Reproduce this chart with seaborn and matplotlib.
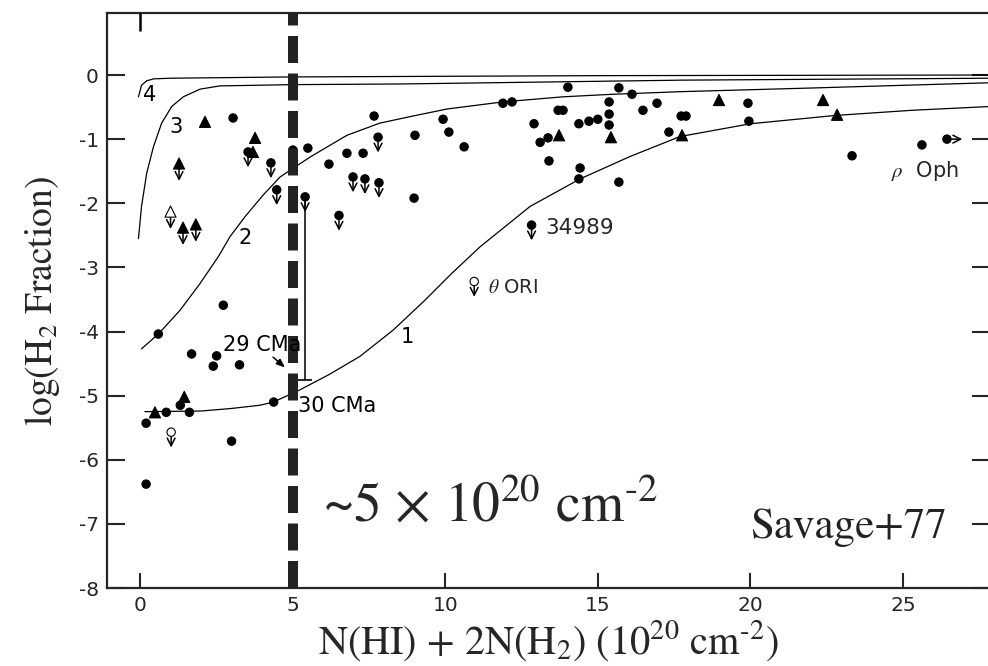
import numpy as np
import pandas as pd
import matplotlib
matplotlib.use("Agg")
import matplotlib.pyplot as plt
import seaborn as sns

sns.set_style("ticks")
plt.rcParams["font.family"] = ["DejaVu Sans"]
plt.rcParams["mathtext.fontset"] = "stix"
plt.rcParams["axes.unicode_minus"] = False

# ---- model curves (log f_H2 vs total column, 10^20 cm^-2) ----
curve1_x = [0.16, 2.0, 3.0, 3.93, 4.37, 5.24, 6.2, 7.2, 8.29, 9.34, 10.2, 11.14,
            12.78, 14.42, 16.06, 17.69, 20.0, 22.8, 25.3, 27.9]
curve1_y = [-5.25, -5.24, -5.2, -5.15, -5.1, -4.91, -4.67, -4.39, -3.98, -3.51, -3.1, -2.68,
            -2.05, -1.62, -1.27, -0.96, -0.76, -0.63, -0.55, -0.49]
curve2_x = [0.05, 0.6, 1.31, 1.97, 2.57, 2.95, 3.44, 4.04, 4.59, 5.57, 6.78, 7.86,
            8.94, 10.06, 11.88, 13.86, 15.5, 17.7, 22.2, 27.9]
curve2_y = [-4.27, -4.04, -3.67, -3.25, -2.83, -2.52, -2.21, -1.87, -1.59, -1.28, -0.94, -0.75,
            -0.64, -0.53, -0.42, -0.34, -0.3, -0.26, -0.2, -0.12]
curve3_x = [-0.05, 0.05, 0.22, 0.44, 0.71, 1.04, 1.42, 1.97, 2.62, 5.0, 8.52, 17.8, 27.9]
curve3_y = [-2.55, -2.05, -1.53, -1.12, -0.75, -0.49, -0.34, -0.22, -0.17, -0.15, -0.14, -0.08, -0.05]
curve4_x = [-0.05, 0.05, 0.22, 0.45, 1.0, 5.0, 15.0, 27.9]
curve4_y = [-0.34, -0.16, -0.09, -0.06, -0.05, -0.03, -0.01, 0.0]
curve_labels = ["1", "2", "3", "4"]
curve_label_x = [8.75, 3.44, 1.18, 0.33]
curve_label_y = [-4.09, -2.54, -0.81, -0.31]

# ---- observed sight lines ----
dot_x = [3.05, 5.01, 5.5, 6.19, 6.78, 7.31, 7.67, 9.01, 9.93, 10.12, 10.62, 8.98,
         11.89, 12.19, 12.91, 13.11, 13.37, 13.4, 13.7, 13.86, 14.02, 14.38, 14.42, 14.38,
         14.71, 15.0, 15.37, 15.37, 15.37, 15.69, 15.69, 16.12, 16.48, 16.94, 17.33,
         17.73, 17.89, 19.92, 19.95, 23.33, 25.62,
         2.73, 0.6, 1.69, 2.51, 2.4, 3.26, 4.38, 1.32, 1.62, 0.86, 0.2, 3.0, 0.2]
dot_y = [-0.67, -1.17, -1.14, -1.39, -1.22, -1.22, -0.64, -0.94, -0.69, -0.89, -1.12, -1.92,
         -0.44, -0.42, -0.76, -1.05, -0.98, -1.34, -0.55, -0.55, -0.19, -0.76, -1.45, -1.62,
         -0.72, -0.69, -0.42, -0.61, -0.78, -0.2, -1.67, -0.3, -0.55, -0.44, -0.89,
         -0.64, -0.64, -0.44, -0.72, -1.26, -1.09,
         -3.59, -4.04, -4.35, -4.38, -4.54, -4.52, -5.1, -5.15, -5.26, -5.26, -5.43, -5.71, -6.38]
tri_x = [2.13, 3.77, 3.7, 13.73, 15.43, 17.76, 18.97, 22.38, 22.84, 1.45, 0.49]
tri_y = [-0.73, -0.98, -1.2, -0.94, -0.97, -0.94, -0.39, -0.39, -0.62, -5.02, -5.26]
# upper limits (downward arrows)
dot_ul_x = [3.54, 4.29, 4.48, 6.98, 7.37, 7.83, 7.8, 6.52, 12.83, 5.41]
dot_ul_y = [-1.2, -1.37, -1.79, -1.59, -1.62, -1.68, -0.97, -2.19, -2.34, -1.9]
tri_ul_x = [1.28, 1.41, 1.83]
tri_ul_y = [-1.38, -2.38, -2.33]
open_tri_ul_x = [1.0]
open_tri_ul_y = [-2.13]
open_dot_ul_x = [1.02, 10.95]
open_dot_ul_y = [-5.57, -3.22]
# lower limit in column density (rightward arrow)
dot_ll_x = [26.44]
dot_ll_y = [-1.0]
# 29 CMa range
cma29_x = 5.41
cma29_top = -1.9
cma29_bottom = -4.76

x_ticks = [0, 5, 10, 15, 20, 25]
y_ticks = [0, -1, -2, -3, -4, -5, -6, -7, -8]
threshold = 5.0

frames = []
for xs, ys, shape, fill in [
    (dot_x, dot_y, "circle", "solid"),
    (tri_x, tri_y, "triangle", "solid"),
    (dot_ul_x, dot_ul_y, "circle", "solid"),
    (tri_ul_x, tri_ul_y, "triangle", "solid"),
    (open_tri_ul_x, open_tri_ul_y, "triangle", "open"),
    (open_dot_ul_x, open_dot_ul_y, "circle", "open"),
    (dot_ll_x, dot_ll_y, "circle", "solid"),
]:
    frames.append(pd.DataFrame({"N": xs, "logf": ys, "shape": shape, "fill": fill}))
obs = pd.concat(frames, ignore_index=True)

fig = plt.figure(figsize=(9.88, 6.66), dpi=100)
ax = fig.add_axes([107 / 988, 1 - 588 / 666, 883 / 988, 575 / 666])

for cx, cy in [(curve1_x, curve1_y), (curve2_x, curve2_y), (curve3_x, curve3_y), (curve4_x, curve4_y)]:
    sns.lineplot(x=cx, y=cy, ax=ax, color="black", lw=0.9, sort=False, estimator=None, zorder=2)

sns.scatterplot(data=obs, x="N", y="logf", style="shape", hue="fill", size="shape",
                markers={"circle": "o", "triangle": "^"},
                palette={"solid": "black", "open": "white"},
                sizes={"circle": 36, "triangle": 64},
                edgecolor="black", linewidth=0.8, legend=False, ax=ax, zorder=4)

arrow_kw = dict(arrowstyle="<-,head_width=0.28,head_length=0.55", color="black",
                lw=1.1, shrinkA=0, shrinkB=0, mutation_scale=10)
for x, y in zip(dot_ul_x + open_dot_ul_x, dot_ul_y + open_dot_ul_y):
    ax.annotate("", xy=(x, y), xytext=(0, -11), textcoords="offset points",
                arrowprops=arrow_kw, zorder=3)
for x, y in zip(tri_ul_x + open_tri_ul_x, tri_ul_y + open_tri_ul_y):
    ax.annotate("", xy=(x, y), xytext=(0, -12.5), textcoords="offset points",
                arrowprops=arrow_kw, zorder=3)
for x, y in zip(dot_ll_x, dot_ll_y):
    ax.annotate("", xy=(x, y), xytext=(11, 0), textcoords="offset points",
                arrowprops=arrow_kw, zorder=3)

# 29 CMa range bar
ax.vlines(cma29_x, cma29_bottom, cma29_top, color="black", lw=1.1, zorder=3)
ax.plot([cma29_x], [cma29_bottom], marker="_", ms=10, mew=1.2, color="black", zorder=3)

# threshold column density
ax.axvline(threshold, color="#222222", lw=7.2, dashes=(2.7, 1.05), zorder=5)

lab_kw = dict(fontsize=15, color="black", family="DejaVu Sans")
for t, lx, ly in zip(curve_labels, curve_label_x, curve_label_y):
    ax.text(lx, ly, t, ha="center", va="center", zorder=6, **lab_kw)
ax.text(2.72, -4.21, "29 CMa", ha="left", va="center", zorder=6, **lab_kw)
ax.annotate("", xy=(4.75, -4.56), xytext=(4.36, -4.4),
            arrowprops=dict(arrowstyle="-|>,head_width=0.2,head_length=0.5", color="black",
                            lw=1.1, shrinkA=0, shrinkB=0, mutation_scale=10), zorder=6)
ax.text(5.18, -5.16, "30 CMa", ha="left", va="center", zorder=6, **lab_kw)
ax.text(13.27, -2.39, "34989", ha="left", va="center", zorder=6,
        fontsize=15.5, family="DejaVu Sans")
ax.text(11.4, -3.31, r"$\theta$ ORI", ha="left", va="center", zorder=6,
        fontsize=14, family="DejaVu Sans")
ax.text(24.6, -1.5, r"$\rho$  Oph", ha="left", va="center", zorder=6,
        fontsize=15, family="DejaVu Sans")

ax.text(6.0, -6.97, r"~5 $\times$ 10$^{20}$ cm$^{\text{-}2}$", ha="left", va="baseline",
        fontsize=40, family="STIXGeneral", zorder=6)
ax.text(20.0, -7.22, "Savage+77", ha="left", va="baseline",
        fontsize=31, family="STIXGeneral", color="#222222", zorder=6)

ax.set_xlim(-1.081, 27.85)
ax.set_ylim(-8.0, 0.967)
ax.set_xticks(x_ticks)
ax.set_yticks(y_ticks)
ax.tick_params(axis="both", direction="in", width=1.5, pad=6)
ax.tick_params(axis="x", length=11)
ax.tick_params(axis="y", length=13, right=True)
ax.set_xticklabels([str(v) for v in x_ticks], fontsize=14.5, family="DejaVu Sans")
ax.set_yticklabels([str(v) for v in y_ticks], fontsize=14.5, family="DejaVu Sans")
for sp in ax.spines.values():
    sp.set_linewidth(1.6)

# single tick on the upper frame at the origin
ax.axvline(x_ticks[0], ymin=1 - 18 / 575, ymax=1, color="black", lw=1.8,
           solid_capstyle="butt", zorder=7)

ax.set_xlabel(r"N(HI) + 2N(H$_2$) (10$^{20}$ cm$^{\text{-}2}$)", fontsize=29,
              family="STIXGeneral", labelpad=2)
ax.set_ylabel(r"log(H$_2$ Fraction)", fontsize=27, family="STIXGeneral", labelpad=12)

fig.savefig("out.png", dpi=100)
